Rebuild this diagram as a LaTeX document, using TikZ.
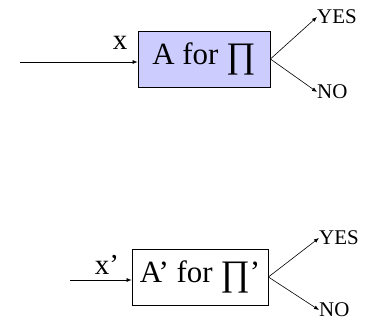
\documentclass[tikz,border=0pt]{standalone}
\usepackage{fontspec}
\setmainfont{Liberation Serif}
\usetikzlibrary{arrows.meta}
\definecolor{boxblue}{RGB}{204,204,255}
\newcommand{\bigprod}{\raisebox{-0.1em}{\fontsize{36}{36}\selectfont ∏}}
\tikzset{
  box/.style={draw, line width=0.8bp, minimum height=56bp, inner sep=0pt,
    font=\fontsize{31}{33}\selectfont},
  arr/.style={line width=0.6bp, -{Latex[length=5bp,width=4bp]}},
  lbl/.style={inner sep=0pt, font=\fontsize{29}{31}\selectfont},
  ans/.style={inner sep=0pt, anchor=west, font=\fontsize{21}{23}\selectfont}
}
\begin{document}
\begin{tikzpicture}[x=1bp, y=-1bp]
\useasboundingbox (0,0) rectangle (370,321);
% upper decider
\node[box, fill=boxblue, minimum width=132bp] (A) at (204,59) {A for \bigprod};
\coordinate (in1) at (20,62);
\draw[arr] (in1) -- (in1 -| A.west);
\node[lbl] (x1) at (120,43) {x};
\node[ans] (yes1) at (317,17) {YES};
\node[ans] (no1) at (317,92) {NO};
\draw[arr] (A.east) -- (yes1.west);
\draw[arr] (A.east) -- (no1.west);
% lower decider
\node[box, minimum width=136bp] (B) at (200,277) {A’ for \bigprod’};
\coordinate (in2) at (70,280);
\draw[arr] (in2) -- (in2 -| B.west);
\node[lbl] (x2) at (107,265) {x’};
\node[ans] (yes2) at (319,238) {YES};
\node[ans] (no2) at (319,310) {NO};
\draw[arr] (B.east) -- (yes2.west);
\draw[arr] (B.east) -- (no2.west);
\end{tikzpicture}
\end{document}
